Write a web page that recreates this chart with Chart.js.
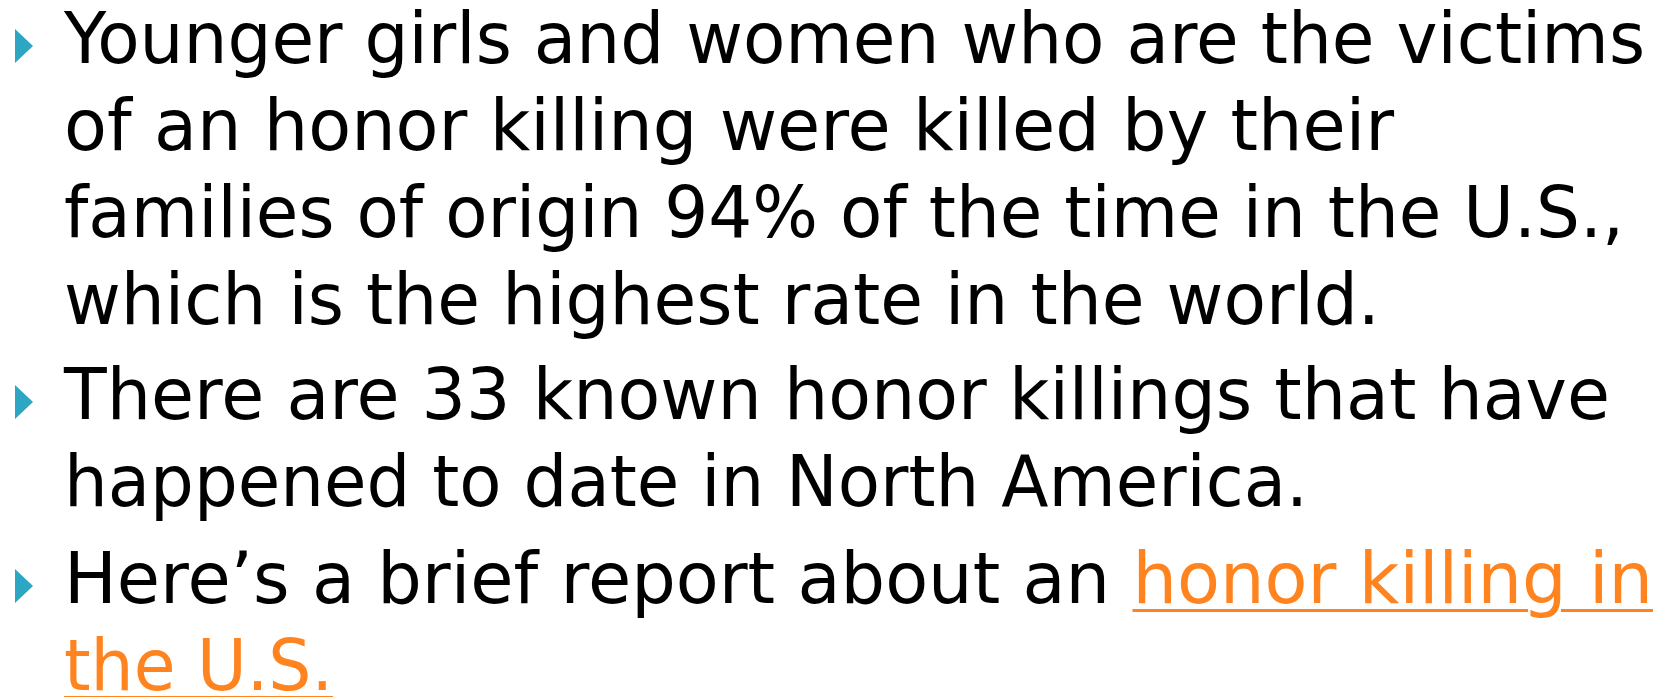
<!DOCTYPE html>
<html>
<head>
<meta charset="utf-8">
<script src="https://cdn.jsdelivr.net/npm/chart.js@4"></script>
<style>
html, body { margin: 0; width: 1675px; height: 697px; overflow: hidden; background: #fff; }
.line {
    position: absolute; left: 64px; white-space: nowrap;
    font-family: "DejaVu Sans", sans-serif; font-size: 72px; line-height: 60px;
    color: #000; transform-origin: 0 0;
}
.line a { color: #ff841f; text-decoration: underline; text-decoration-thickness: 3px; text-underline-offset: 6px; }
.bullet { position: absolute; left: 12px; }
</style>
</head>
<body>
<script>
// --- slide text, one entry per rendered line ---
const para1Lines = [
    "Younger girls and women who are the victims",
    "of an honor killing were killed by their",
    "families of origin 94% of the time in the U.S.,",
    "which is the highest rate in the world."
];
const para2Lines = [
    "There are 33 known honor killings that have",
    "happened to date in North America."
];
const para3Lead = "Here\u2019s a brief report about an ";
const linkLines = ["honor killing in", "the U.S."];

// layout: baseline of each line and where each line ends (px)
const baselines = [63, 150, 237, 324, 419, 506, 603, 690];
const rightEdges = [1645, 1394, 1624, 1380, 1610, 1308, 1653, 333];
const textLeft = 64;
const bulletColor = '#2ca6c3';

// build the list of html lines, marking which start a bullet
const rows = [];
para1Lines.forEach((t, i) => rows.push({ html: t, bullet: i === 0 }));
para2Lines.forEach((t, i) => rows.push({ html: t, bullet: i === 0 }));
rows.push({ html: para3Lead + '<a href="#">' + linkLines[0] + '</a>', bullet: true });
rows.push({ html: '<a href="#">' + linkLines[1] + '</a>', bullet: false });

// where the baseline sits inside a .line box
const probe = document.createElement('div');
probe.className = 'line';
probe.innerHTML = 'x<span style="display:inline-block;width:0;height:0"></span>';
document.body.appendChild(probe);
const baseOff = probe.lastChild.getBoundingClientRect().top - probe.getBoundingClientRect().top;
probe.remove();

rows.forEach((r, i) => {
    const d = document.createElement('div');
    d.className = 'line';
    d.innerHTML = r.html;
    d.style.top = (baselines[i] - baseOff) + 'px';
    document.body.appendChild(d);
    // squeeze the line so it ends where the original font ended it
    const w = d.getBoundingClientRect().width;
    d.style.transform = 'scaleX(' + ((rightEdges[i] - textLeft) / w).toFixed(4) + ')';
});

// --- bullets: a tiny Chart.js scatter per paragraph with a triangle marker ---
const tri = document.createElement('canvas');
tri.width = 18; tri.height = 34;
const tctx = tri.getContext('2d');
tctx.fillStyle = bulletColor;
tctx.beginPath();
tctx.moveTo(0, 0); tctx.lineTo(18, 17); tctx.lineTo(0, 34); tctx.closePath();
tctx.fill();

rows.forEach((r, i) => {
    if (!r.bullet) return;
    const cv = document.createElement('canvas');
    cv.className = 'bullet';
    cv.width = 24; cv.height = 40;
    cv.style.top = (baselines[i] - 17.5 - 20) + 'px';
    document.body.appendChild(cv);
    new Chart(cv, {
        type: 'scatter',
        data: { datasets: [{ data: [{ x: 0, y: 0 }], pointStyle: tri, pointRadius: 10 }] },
        options: {
            responsive: false,
            animation: false,
            events: [],
            layout: { autoPadding: false, padding: 0 },
            plugins: { legend: { display: false }, tooltip: { enabled: false } },
            scales: {
                x: { display: false, min: -1, max: 1 },
                y: { display: false, min: -1, max: 1 }
            }
        }
    });
});
</script>
</body>
</html>
